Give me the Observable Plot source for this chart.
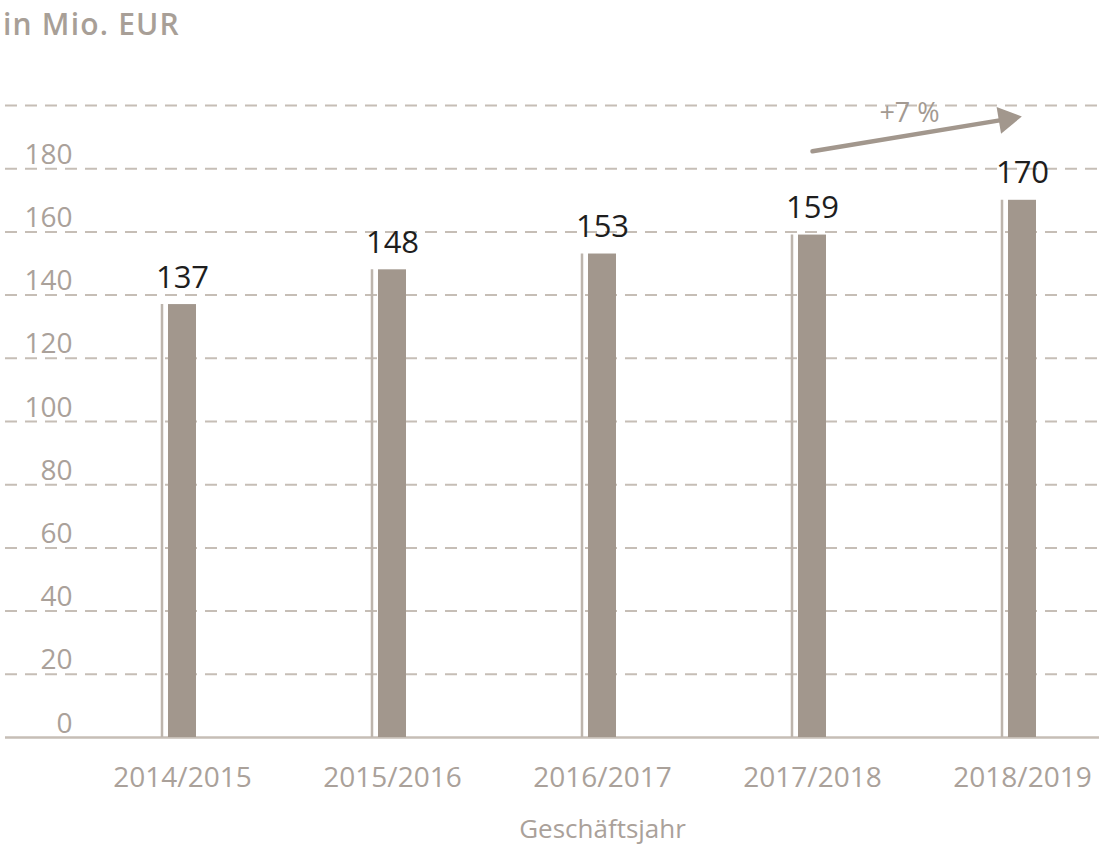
<!DOCTYPE html>
<html>
<head>
<meta charset="utf-8">
<script src="https://cdn.jsdelivr.net/npm/d3@7"></script>
<script src="https://cdn.jsdelivr.net/npm/@observablehq/plot@0.6"></script>
<style>
  html, body { margin: 0; padding: 0; background: #fff; }
  body { width: 1105px; height: 850px; position: relative; overflow: hidden; font-family: "Open Sans", sans-serif; }
  #title { position: absolute; left: 3px; top: 9px; font-size: 30px; line-height: 30px; color: #a89f97; letter-spacing: 1.2px; font-weight: 600; }
  #chart { position: absolute; left: 0; top: 50px; }
</style>
</head>
<body>
<div id="title">in Mio. EUR</div>
<div id="chart"></div>
<script>
const categories = ["2014/2015", "2015/2016", "2016/2017", "2017/2018", "2018/2019"];
const values = [137, 148, 153, 159, 170];
const yTickLabels = [0, 20, 40, 60, 80, 100, 120, 140, 160, 180];
const gridValues = [20, 40, 60, 80, 100, 120, 140, 160, 180, 200];
const growthLabel = "+7 %";
const arrowFrom = "2017/2018";
const arrowTo = "2018/2019";
const arrowY1 = 185.5;
const arrowY2 = 196.5;
const xAxisTitle = "Geschäftsjahr";

const data = categories.map((c, i) => ({category: c, value: values[i]}));
const arrowData = [{from: arrowFrom, to: arrowTo, y1: arrowY1, y2: arrowY2}];

const barColor = "#a2978d";
const thinColor = "#bdb5ad";
const gridColor = "#c6beb6";
const labelColor = "#aaa19a";

const plot = Plot.plot({
  width: 1105,
  height: 800,
  marginLeft: 5,
  marginRight: 6,
  marginTop: 55,
  marginBottom: 113,
  style: {fontFamily: "'Open Sans', sans-serif", background: "transparent", overflow: "visible"},
  x: {domain: categories, range: [77, 1127], padding: 0, round: false, axis: null},
  y: {domain: [0, 200], axis: null},
  marks: [
    Plot.ruleY(gridValues, {stroke: gridColor, strokeWidth: 2, strokeDasharray: "12,8"}),
    Plot.ruleY([0], {stroke: gridColor, strokeWidth: 2.5}),
    Plot.text(yTickLabels, {y: d => d, frameAnchor: "left", dx: 67, dy: -5, textAnchor: "end", lineAnchor: "bottom", text: d => String(d), fill: labelColor, fontSize: 28, letterSpacing: 0.5}),
    Plot.ruleX(data, {x: "category", y1: 0, y2: "value", dx: -20.5, stroke: thinColor, strokeWidth: 2.5}),
    Plot.barY(data, {x: "category", y1: 0, y2: "value", fill: barColor, insetLeft: 91, insetRight: 91}),
    Plot.text(data, {x: "category", y: "value", text: d => String(d.value), dy: -17, lineAnchor: "bottom", fill: "#1e1e1e", fontSize: 31, letterSpacing: 0.5}),
    Plot.text(categories, {x: d => d, frameAnchor: "bottom", dy: 49, lineAnchor: "bottom", fill: labelColor, fontSize: 28, letterSpacing: 2}),
    Plot.text([xAxisTitle], {x: () => categories[2], frameAnchor: "bottom", dy: 100, lineAnchor: "bottom", fill: labelColor, fontSize: 26, letterSpacing: 0.5}),
    Plot.arrow(arrowData, {x1: "from", x2: "to", y1: "y1", y2: "y2", stroke: barColor, strokeWidth: 4.5, headLength: 0, insetEnd: 14}),
    Plot.dot(arrowData, {x: "to", y: "y2", symbol: "triangle", r: 10, fill: barColor, stroke: "none", rotate: 80.5, dx: -16, dy: 2.5}),
    Plot.text([growthLabel], {x: () => arrowFrom, y: () => 197.5, dx: 97, fill: "#a39a92", fontSize: 27, letterSpacing: 2.5})
  ]
});
document.getElementById("chart").appendChild(plot);
</script>
</body>
</html>
